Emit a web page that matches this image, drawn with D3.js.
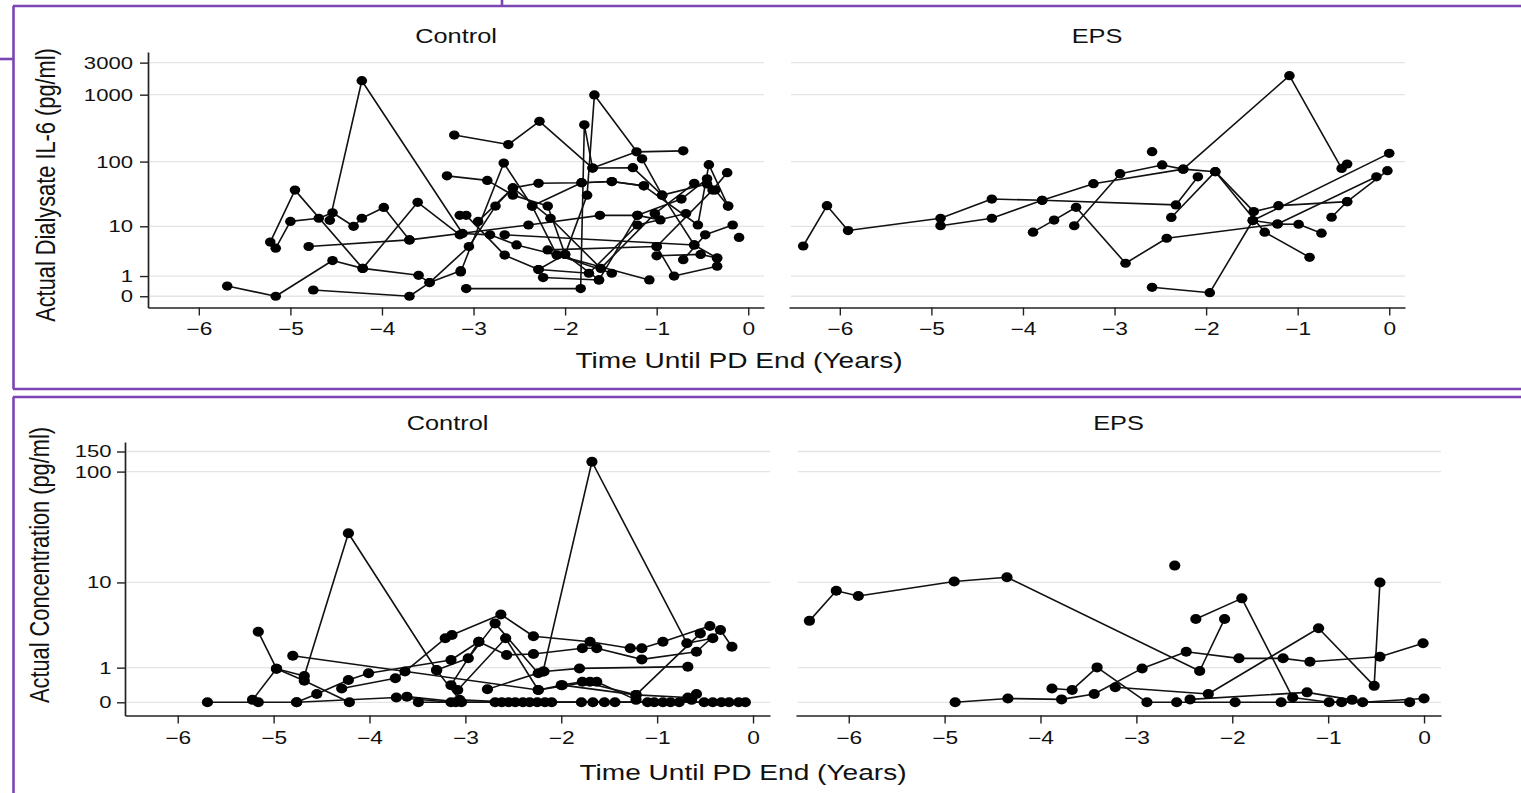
<!DOCTYPE html>
<html><head><meta charset="utf-8">
<script src="https://cdn.jsdelivr.net/npm/d3@7"></script>
<style>
html,body{margin:0;padding:0;background:#fff;}
svg{display:block;}
text{font-family:"Liberation Sans",Arial,Helvetica,sans-serif;fill:#111;}
</style>
</head><body>
<svg id="chart" width="1521" height="793"></svg>
<script>
// ---------- data ----------
const yearTicks = [-6, -5, -4, -3, -2, -1, 0];
const il6Ticks = [0, 1, 10, 100, 1000, 3000];
const concTicks = [0, 1, 10, 100, 150];
const facetNames = ["Control", "EPS"];
const yTitles = ["Actual Dialysate IL-6 (pg/ml)", "Actual Concentration (pg/ml)"];
const xTitle = "Time Until PD End (Years)";

// each series: [years until PD end, value pg/ml]
const controlIL6 = [
  [[-5.69,0.42],[-5.16,0],[-4.54,2.4],[-4.21,1.6],[-3.60,1.05],[-3.48,0.6],[-3.14,1.4]],
  [[-5.22,5.4],[-4.95,37],[-4.21,1.6],[-3.61,24],[-3.15,7.2]],
  [[-5.16,4.2],[-5.0,12],[-4.69,13.5],[-4.54,16.5],[-4.31,10],[-4.22,13.5],[-3.98,20],[-3.70,5.9]],
  [[-4.57,12.5],[-4.22,1615],[-3.12,7.6],[-2.82,7.2],[-2.53,4.8],[-2.09,3.1],[-1.49,1.2]],
  [[-4.80,4.5],[-3.70,5.9],[-2.40,10.5],[-1.62,15],[-1.21,15],[-0.96,12.7]],
  [[-4.75,0.24],[-3.70,0],[-3.48,0.6],[-3.05,4.5],[-2.76,21],[-2.57,40],[-2.29,47],[-1.82,48],[-1.49,50],[-1.14,43]],
  [[-3.08,0.3],[-1.83,0.3],[-1.79,355],[-1.70,80],[-1.26,81],[-0.94,31],[-0.45,46]],
  [[-3.21,250],[-2.62,180],[-2.28,400],[-1.70,80],[-1.22,140],[-0.71,145]],
  [[-3.29,61],[-2.85,52],[-2.57,31],[-2.19,21],[-2.0,3.2],[-1.63,0.75]],
  [[-3.14,1.3],[-2.67,95],[-2.36,21],[-2.09,3.1],[-1.08,0.75]],
  [[-3.15,15],[-3.08,15],[-2.66,3.1],[-2.29,1.5],[-1.74,1.2],[-1.21,10.5],[-0.68,16]],
  [[-2.95,12],[-2.57,40],[-2.16,13.5],[-1.61,1.6],[-1.02,16],[-0.59,47]],
  [[-2.24,0.9],[-1.63,0.75],[-1.21,15],[-0.73,27],[-0.45,55],[-0.36,37],[-0.22,21]],
  [[-2.29,1.5],[-2.0,3.2],[-1.76,31],[-1.68,990],[-1.16,110],[-0.94,31],[-0.59,4.8],[-0.34,2.7]],
  [[-2.36,21],[-1.82,48],[-1.49,50],[-1.14,43],[-0.55,10.5],[-0.43,90],[-0.22,21]],
  [[-1.0,4.5],[-0.81,1.0],[-0.34,1.8]],
  [[-1.0,3.0],[-0.52,3.2],[-0.34,2.7]],
  [[-0.71,2.5],[-0.47,7.2],[-0.17,10.5]],
  [[-2.19,3.9],[-1.0,4.5],[-0.39,37],[-0.23,68]],
  [[-2.66,7.2],[-0.59,4.8]],
  [[-0.10,6.5]]
];
const epsIL6 = [
  [[-6.40,4.6],[-6.14,21.3],[-5.91,8.5],[-4.90,13.5],[-4.34,27],[-3.79,25.8],[-2.33,21.9],[-2.09,59]],
  [[-4.90,10.2],[-4.34,13.5],[-3.79,25.8],[-3.23,46.4],[-2.25,77],[-1.09,1918],[-0.52,79],[-0.46,92]],
  [[-3.89,8.0],[-3.66,12.6],[-3.42,20.1],[-2.88,2.1],[-2.43,6.3],[-1.22,10.9],[-0.99,10.8],[-0.74,7.7]],
  [[-3.44,10.2],[-2.94,65.7],[-2.48,89],[-2.25,77],[-1.90,70.5],[-1.48,17.2],[-1.21,21.3],[-0.46,24.6]],
  [[-2.59,141]],
  [[-2.38,13.9],[-1.90,70.5],[-1.36,8.0],[-0.87,2.8]],
  [[-2.59,0.36],[-1.96,0.13],[-1.49,12.4],[0.0,133]],
  [[-1.49,12.4],[-1.22,10.9],[-0.14,59]],
  [[-0.63,14],[-0.46,24.6],[-0.02,73]]
];
const controlConc = [
  [[-5.69,0],[-5.16,0],[-4.76,0],[-3.72,0.1],[-3.15,0]],
  [[-5.16,3.1],[-4.97,0.96],[-4.68,0.54],[-4.21,0]],
  [[-5.22,0.05],[-4.97,0.96],[-4.68,0.69],[-4.22,28.4],[-3.30,0.9],[-3.06,0.05],[-2.48,0]],
  [[-4.80,1.54],[-2.24,0.28],[-1.99,0.41],[-1.22,0.16],[-0.55,2.97]],
  [[-4.76,0],[-4.55,0.18],[-4.22,0.56],[-4.01,0.79],[-3.15,1.33],[-2.86,2.36]],
  [[-4.29,0.32],[-3.73,0.62],[-3.63,0.85],[-3.21,2.6],[-3.14,2.85],[-2.63,4.8],[-2.29,2.75],[-1.70,2.36],[-1.28,1.95],[-1.16,1.95],[-0.94,2.36],[-0.45,3.6]],
  [[-3.49,0],[-3.10,0],[-2.62,0],[-2.10,0],[-1.55,0],[-1.03,0],[-0.51,0],[-0.15,0]],
  [[-3.30,0.91],[-2.97,1.41],[-2.69,3.85],[-2.24,0.79],[-2.18,0.85],[-1.81,0.97],[-0.68,1.04]],
  [[-3.15,0.41],[-2.86,2.36],[-2.57,1.58],[-2.29,1.63],[-1.78,1.95],[-1.63,1.95],[-1.16,1.36],[-0.59,1.75],[-0.34,3.25],[-0.22,2.04]],
  [[-3.08,0.28],[-2.58,2.6],[-2.24,0.28],[-1.70,0.51],[-1.63,0.51],[-1.22,0.05]],
  [[-2.77,0.30],[-2.19,0.85],[-1.68,122],[-0.69,2.26],[-0.42,2.6]],
  [[-2.0,0.41],[-1.78,0.51],[-1.22,0.16],[-0.68,0.1],[-0.59,0.18]],
  [[-3.61,0.12],[-3.04,0],[-2.69,0],[-2.40,0],[-1.67,0],[-1.10,0],[-0.77,0],[-0.33,0],[-0.08,0]],
  [[-2.55,0],[-2.25,0],[-1.79,0],[-1.44,0],[-0.94,0],[-0.42,0],[-0.25,0]],
  [[-2.33,0],[-2.17,0],[-0.86,0],[-0.64,0.05]]
];
const epsConc = [
  [[-6.41,4.1],[-6.13,8.3],[-5.90,7.4],[-4.90,10.2],[-4.35,11.2],[-2.34,0.87],[-2.08,4.3]],
  [[-2.38,4.3],[-1.90,7.0],[-1.37,0.1],[-0.99,0],[-0.86,0]],
  [[-4.89,0],[-4.34,0.08],[-3.78,0.06],[-3.44,0.18],[-2.94,0.97],[-2.48,1.75],[-1.93,1.41],[-1.47,1.41],[-1.19,1.25],[-0.46,1.49],[-0.01,2.26]],
  [[-3.88,0.32],[-3.67,0.28],[-3.41,1.01],[-2.89,0],[-2.58,0],[-1.97,0],[-1.49,0],[-0.15,0]],
  [[-3.22,0.35],[-2.25,0.18],[-1.10,3.4],[-0.52,0.39],[-0.46,10.0]],
  [[-2.44,0.06],[-1.22,0.22],[-0.75,0.05],[-0.64,0],[0.0,0.08]],
  [[-2.60,14.4]]
];

// ---------- layout ----------
const SX = 1.3; // horizontal stretch of the original figure
const svg = d3.select("#chart");
const purple = "#7b46b4";

// frame borders
const border = svg.append("g").attr("stroke", purple).attr("stroke-width", 2.6).attr("fill", "none");
[[13,6,1521,6],[502,0,502,6],[13.5,6,13.5,389],[13,389,1521,389],[0,59,13,59],
 [13,397,1521,397],[13.5,397,13.5,793]].forEach(l =>
  border.append("line").attr("x1", l[0]).attr("y1", l[1]).attr("x2", l[2]).attr("y2", l[3]));

function stretchedText(g, str, x, y, size, anchor, rotate) {
  return g.append("text")
    .attr("transform", `translate(${x},${y}) scale(${SX},1)` + (rotate ? " rotate(-90)" : ""))
    .attr("text-anchor", anchor)
    .style("font-size", size + "px")
    .text(str);
}

function drawPanel(cfg) {
  const g = svg.append("g");
  const y = d3.scaleSymlog().constant(1).domain(cfg.yDomain).range(cfg.yRange);
  cfg.facets.forEach((f, i) => {
    const x = d3.scaleLinear().domain(cfg.xDomain).range([f.x0, f.x1]);
    // grid
    g.append("g").selectAll("line").data(cfg.yTicks).join("line")
      .attr("x1", f.x0 + 2).attr("x2", f.x1)
      .attr("y1", d => y(d)).attr("y2", d => y(d))
      .attr("stroke", "#e4e4e4").attr("stroke-width", 1.3);
    // facet title
    stretchedText(g, facetNames[i], (f.x0 + f.x1) / 2, cfg.titleY, 19.5, "middle");
    // x axis
    const xa = g.append("g").attr("transform", `translate(0,${cfg.yRange[0]})`)
      .call(d3.axisBottom(x).tickValues(yearTicks).tickFormat(d3.format("d"))
        .tickSize(8).tickSizeOuter(0).tickPadding(cfg.xPad));
    xa.select(".domain").attr("stroke", "#222").attr("stroke-width", 1.7);
    xa.selectAll(".tick line").attr("stroke", "#222").attr("stroke-width", 1.4);
    xa.selectAll(".tick text").attr("fill", "#111").style("font-size", "17.5px")
      .style("font-family", '"Liberation Sans",Arial,sans-serif')
      .attr("transform", `scale(${SX},1)`);
    // y axis (left facet only)
    if (i === 0) {
      const ya = g.append("g").attr("transform", `translate(${f.x0},0)`)
        .call(d3.axisLeft(y).tickValues(cfg.yTicks).tickFormat(d3.format("d")).tickSize(8).tickSizeOuter(0));
      ya.select(".domain").attr("stroke", "#222").attr("stroke-width", 1.7);
      ya.selectAll(".tick line").attr("stroke", "#222").attr("stroke-width", 1.4);
      ya.selectAll(".tick text").attr("fill", "#111").style("font-size", "17px")
        .style("font-family", '"Liberation Sans",Arial,sans-serif')
        .attr("x", -(8 + cfg.yPad) / SX)
        .attr("transform", `scale(${SX},1)`);
    }
    // series
    const line = d3.line().x(d => x(d[0])).y(d => y(d[1]));
    const sg = g.append("g");
    f.data.forEach(s => {
      if (s.length > 1)
        sg.append("path").attr("d", line(s)).attr("fill", "none")
          .attr("stroke", "#111").attr("stroke-width", cfg.lw).attr("stroke-linejoin", "round");
    });
    f.data.forEach(s => {
      sg.append("g").selectAll("ellipse").data(s).join("ellipse")
        .attr("cx", d => x(d[0])).attr("cy", d => y(d[1]))
        .attr("rx", cfg.rx).attr("ry", cfg.ry).attr("fill", "#000");
    });
  });
  stretchedText(g, xTitle, cfg.xTitle[0], cfg.xTitle[1], 21.6, "middle");
  stretchedText(g, cfg.yTitle, cfg.yTitlePos[0], cfg.yTitlePos[1], 21.8, "middle", true);
}

drawPanel({
  yDomain: [-0.47, 4320], yRange: [307.5, 52], yTicks: il6Ticks,
  xDomain: [-6.555, 0.172],
  facets: [{x0: 148, x1: 764, data: controlIL6}, {x0: 789, x1: 1405, data: epsIL6}],
  titleY: 43, xPad: 7.5, yPad: 7, lw: 1.6, rx: 5.3, ry: 4.6,
  xTitle: [739, 368], yTitle: yTitles[0], yTitlePos: [55, 185]
});
drawPanel({
  yDomain: [-0.302, 181.6], yRange: [715.5, 442], yTicks: concTicks,
  xDomain: [-6.55, 0.177],
  facets: [{x0: 125, x1: 770, data: controlConc}, {x0: 796, x1: 1441, data: epsConc}],
  titleY: 430, xPad: 8.5, yPad: 5.5, lw: 1.6, rx: 5.6, ry: 5.0,
  xTitle: [743, 780], yTitle: yTitles[1], yTitlePos: [49, 565]
});
</script>
</body></html>
